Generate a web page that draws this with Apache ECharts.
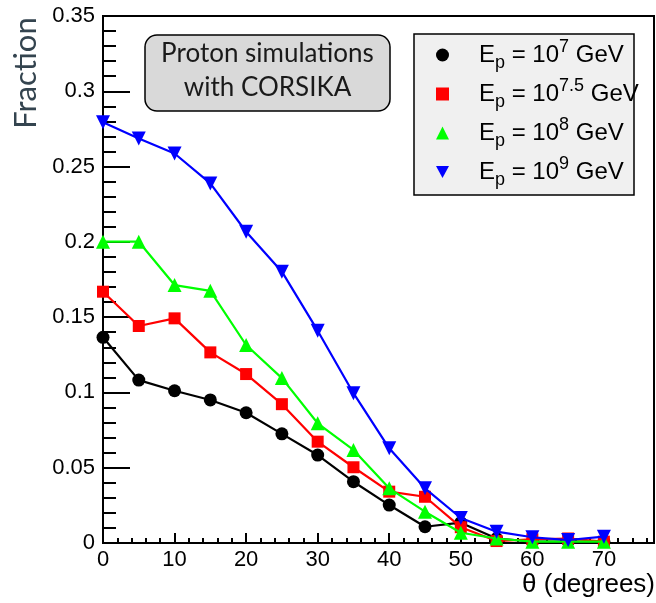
<!DOCTYPE html>
<html>
<head>
<meta charset="utf-8">
<script src="https://cdn.jsdelivr.net/npm/echarts@6/dist/echarts.min.js"></script>
<style>
html,body{margin:0;padding:0;background:#fff;}
#chart{width:656px;height:603px;}
</style>
</head>
<body>
<div id="chart"></div>
<script>
// ---- data ----
var theta = [0, 5, 10, 15, 20, 25, 30, 35, 40, 45, 50, 55, 60, 65, 70];
var frac_E7   = [0.1366, 0.1082, 0.1011, 0.0950, 0.0865, 0.0725, 0.0584, 0.0407, 0.0252, 0.0108, 0.0135, 0.0030, 0.0010, 0.0010, 0.0010];
var frac_E7_5 = [0.1669, 0.1441, 0.1492, 0.1266, 0.1122, 0.0922, 0.0673, 0.0503, 0.0341, 0.0307, 0.0105, 0.0013, 0.0025, 0.0030, 0.0009];
var frac_E8   = [0.2001, 0.2001, 0.1713, 0.1675, 0.1315, 0.1095, 0.0795, 0.0618, 0.0363, 0.0208, 0.0068, 0.0030, 0.0009, 0.0009, 0.0009];
var frac_E9   = [0.2795, 0.2687, 0.2587, 0.2388, 0.2067, 0.1802, 0.1410, 0.0995, 0.0629, 0.0363, 0.0166, 0.0075, 0.0038, 0.0020, 0.0042];
var seriesNames = ['E_p = 10^7 GeV', 'E_p = 10^7.5 GeV', 'E_p = 10^8 GeV', 'E_p = 10^9 GeV'];
var exponents = ['7', '7.5', '8', '9'];
var xTicks = [0, 10, 20, 30, 40, 50, 60, 70];
var yTicks = ['0', '0.05', '0.1', '0.15', '0.2', '0.25', '0.3', '0.35'];

function pairs(vals) { return theta.map(function (t, i) { return [t, vals[i]]; }); }

var FONT = 'Liberation Sans';
var colors = ['#000000', '#ff0000', '#00ff00', '#0000ff'];
var symbols = ['circle', 'rect', 'triangle', 'triangle'];
var symSizes = [13, 12, 14, 14];
var rotates = [0, 0, 0, 180];
var allVals = [frac_E7, frac_E7_5, frac_E8, frac_E9];

var series = allVals.map(function (v, i) {
  return {
    name: seriesNames[i],
    type: 'line',
    data: pairs(v),
    symbol: symbols[i],
    symbolSize: symSizes[i],
    symbolRotate: rotates[i],
    showSymbol: true,
    color: colors[i],
    lineStyle: { color: colors[i], width: 2.2 },
    itemStyle: { color: colors[i] },
    z: 3 + i
  };
});

var legendIcons = ['circle', 'rect', 'triangle', 'path://M0,0 L12,0 L6,11 Z'];

var chart = echarts.init(document.getElementById('chart'), null, { renderer: 'canvas' });
chart.setOption({
  animation: false,
  backgroundColor: '#ffffff',
  grid: { left: 103, top: 16, right: 2, bottom: 60, show: true, borderColor: '#000', borderWidth: 2, backgroundColor: 'transparent', containLabel: false },
  xAxis: [{
    type: 'value', min: 0, max: 77, interval: 10,
    axisLine: { show: true, onZero: false, lineStyle: { color: '#000', width: 2 } },
    axisTick: { show: true, inside: true, length: 10, lineStyle: { color: '#000', width: 2 } },
    splitLine: { show: false },
    axisLabel: { show: true, showMaxLabel: false, margin: 6, color: '#000', fontFamily: FONT, fontSize: 22,
      formatter: function (v) { return xTicks.indexOf(v) >= 0 ? String(v) : ''; } }
  }, {
    type: 'value', min: 0, max: 77, interval: 2, position: 'bottom',
    axisLine: { show: false },
    axisTick: { show: true, inside: true, length: 5, lineStyle: { color: '#000', width: 2 } },
    splitLine: { show: false },
    axisLabel: { show: false }
  }],
  yAxis: {
    type: 'value', min: 0, max: 0.35, interval: 0.05,
    axisLine: { show: true, onZero: false, lineStyle: { color: '#000', width: 2 } },
    axisTick: { show: true, inside: true, length: 27, lineStyle: { color: '#000', width: 2 } },
    minorTick: { show: true, splitNumber: 5, length: 13, lineStyle: { color: '#000', width: 2 } },
    splitLine: { show: false },
    minorSplitLine: { show: false },
    axisLabel: { margin: 8, color: '#000', fontFamily: FONT, fontSize: 22,
      formatter: function (v) { var s = yTicks[Math.round(v / 0.05)]; return s === undefined ? '' : s; } }
  },
  legend: {
    orient: 'vertical',
    left: 436, top: 38,
    padding: 0,
    itemGap: 5,
    itemWidth: 13, itemHeight: 13,
    selectedMode: false,
    z: 20,
    data: seriesNames.map(function (n, i) { return { name: n, icon: legendIcons[i], itemStyle: { color: colors[i] } }; }),
    formatter: function (name) {
      var i = seriesNames.indexOf(name);
      return '{sp| }{b|E}{sub|p}{b| = 10}{sup|' + exponents[i] + '}{b| GeV}';
    },
    textStyle: {
      fontFamily: FONT, color: '#000',
      rich: {
        sp: { width: 25, fontSize: 24, lineHeight: 34 },
        b: { fontFamily: FONT, fontSize: 24, lineHeight: 34, color: '#000' },
        sub: { fontFamily: FONT, fontSize: 18, lineHeight: 24, verticalAlign: 'bottom', color: '#000' },
        sup: { fontFamily: FONT, fontSize: 18, lineHeight: 22, verticalAlign: 'top', color: '#000' }
      }
    }
  },
  graphic: [
    { type: 'rect', z: 10, shape: { x: 414, y: 34, width: 220, height: 161 },
      style: { fill: '#f0f0f0', stroke: '#000', lineWidth: 1.5 } },
    { type: 'rect', z: 10, shape: { x: 145, y: 35, width: 245, height: 76, r: 12 },
      style: { fill: '#d9d9d9', stroke: '#000', lineWidth: 1.5 } },
    { type: 'text', z: 11, x: 267.5, y: 71,
      style: { text: 'Proton simulations\nwith CORSIKA', fontFamily: 'Lato', fontSize: 26, lineHeight: 34,
        fill: '#1a1a1a', align: 'center', verticalAlign: 'middle' } },
    { type: 'text', z: 11, x: 26, y: 73, rotation: Math.PI / 2,
      style: { text: 'Fraction', fontFamily: 'Lato', fontSize: 31, fill: '#34444f', align: 'center', verticalAlign: 'middle' } },
    { type: 'text', z: 11, x: 655, y: 585,
      style: { text: 'θ (degrees)', fontFamily: FONT, fontSize: 26, fill: '#000', align: 'right', verticalAlign: 'middle' } }
  ],
  series: series
});
</script>
</body>
</html>
